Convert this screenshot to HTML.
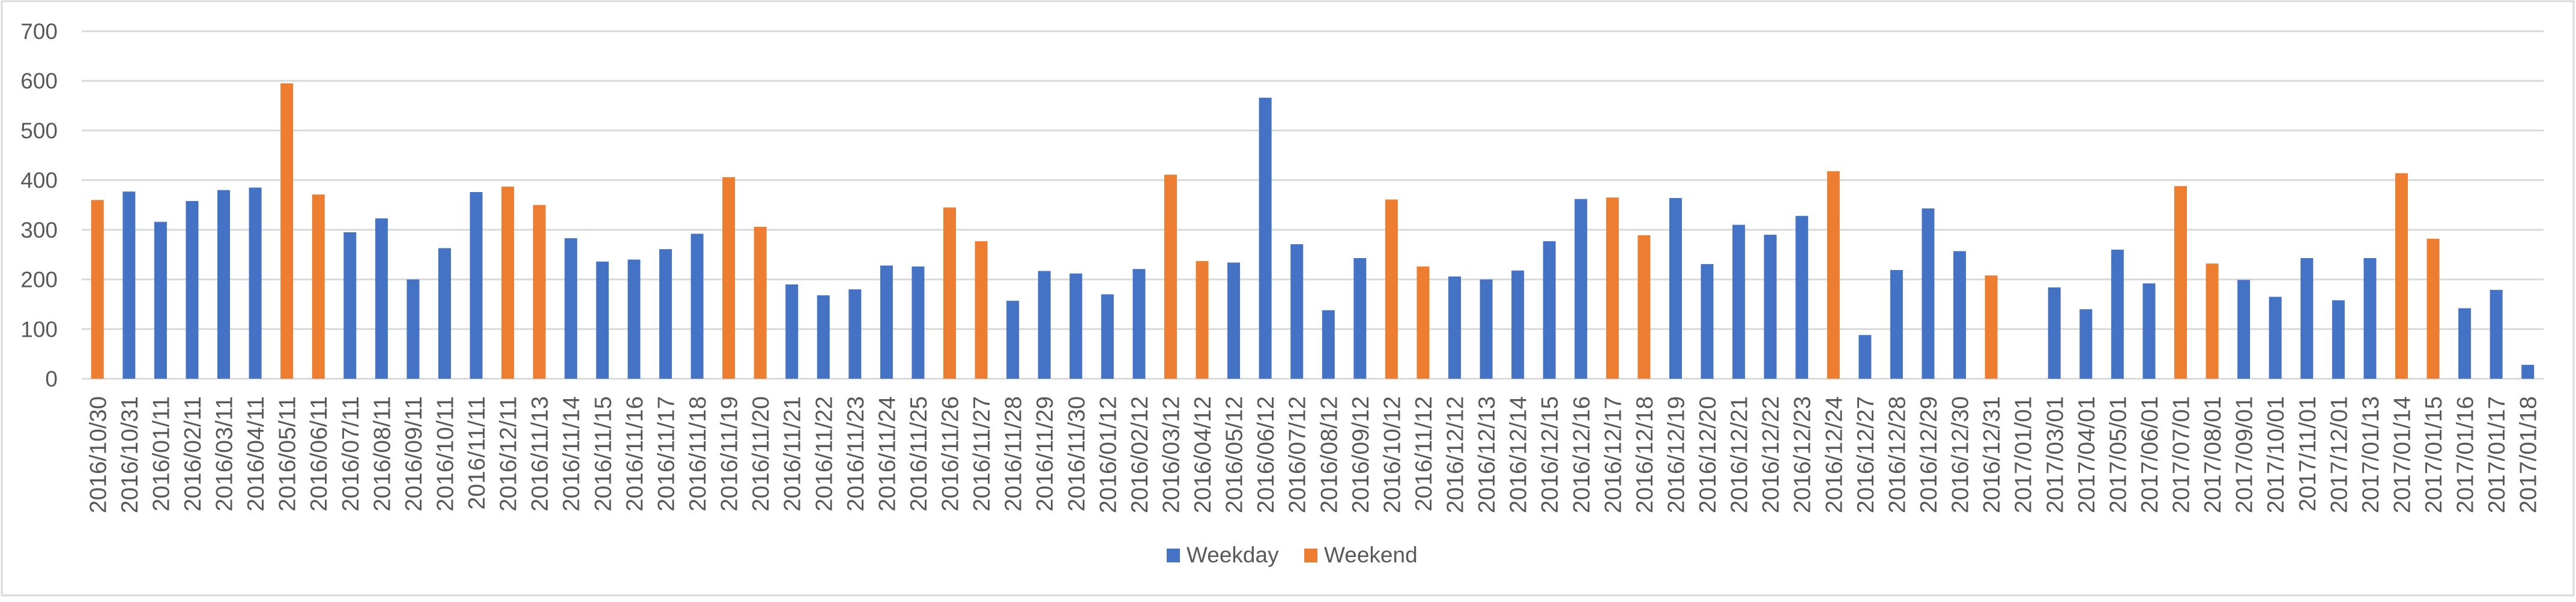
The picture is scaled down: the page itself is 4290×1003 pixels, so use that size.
<!DOCTYPE html>
<html><head><meta charset="utf-8"><style>
html,body{margin:0;padding:0;background:#fff}
svg{display:block}
text{font-family:"Liberation Sans",sans-serif;fill:#595959}
</style></head><body>
<svg id="chart" width="4290" height="1003" xmlns="http://www.w3.org/2000/svg">
<rect x="3" y="2" width="4283" height="990" fill="#fff" stroke="#d9d9d9" stroke-width="3"/>
<g id="grid"></g>
<g id="yticks"></g>
<g id="bars"></g>
<g id="xticks"></g>
<g>
<g>
<rect x="1943" y="914" width="22" height="23" fill="#4472C4"/>
<text x="1976" y="937" font-size="37">Weekday</text></g>
<g>
<rect x="2172" y="914" width="22" height="23" fill="#ED7D31"/>
<text x="2205" y="937" font-size="37">Weekend</text></g>
</g>
</svg>
<script>
const categories=["2016/10/30","2016/10/31","2016/01/11","2016/02/11","2016/03/11","2016/04/11","2016/05/11","2016/06/11","2016/07/11","2016/08/11","2016/09/11","2016/10/11","2016/11/11","2016/12/11","2016/11/13","2016/11/14","2016/11/15","2016/11/16","2016/11/17","2016/11/18","2016/11/19","2016/11/20","2016/11/21","2016/11/22","2016/11/23","2016/11/24","2016/11/25","2016/11/26","2016/11/27","2016/11/28","2016/11/29","2016/11/30","2016/01/12","2016/02/12","2016/03/12","2016/04/12","2016/05/12","2016/06/12","2016/07/12","2016/08/12","2016/09/12","2016/10/12","2016/11/12","2016/12/12","2016/12/13","2016/12/14","2016/12/15","2016/12/16","2016/12/17","2016/12/18","2016/12/19","2016/12/20","2016/12/21","2016/12/22","2016/12/23","2016/12/24","2016/12/27","2016/12/28","2016/12/29","2016/12/30","2016/12/31","2017/01/01","2017/03/01","2017/04/01","2017/05/01","2017/06/01","2017/07/01","2017/08/01","2017/09/01","2017/10/01","2017/11/01","2017/12/01","2017/01/13","2017/01/14","2017/01/15","2017/01/16","2017/01/17","2017/01/18"];
const values=[360,377,316,358,380,385,595,371,295,323,200,263,376,387,350,283,236,240,261,292,406,306,190,168,180,228,226,345,277,157,217,212,170,221,411,237,234,566,271,138,243,361,226,206,200,218,277,362,365,289,364,231,310,290,328,418,88,219,343,257,208,0,184,140,260,192,388,232,199,165,243,158,243,414,282,142,179,28];
const series=["E","D","D","D","D","D","E","E","D","D","D","D","D","E","E","D","D","D","D","D","E","E","D","D","D","D","D","E","E","D","D","D","D","D","E","E","D","D","D","D","D","E","E","D","D","D","D","D","E","E","D","D","D","D","D","E","D","D","D","D","E","E","D","D","D","D","E","E","D","D","D","D","D","E","E","D","D","D"];
const yTicks=[0,100,200,300,400,500,600,700];
const NS="http://www.w3.org/2000/svg";
const L=136,R=4236,Y0=631,Y700=52;
const band=(R-L)/categories.length;
const x=i=>L+band*(i+0.5);
const y=v=>Y0-(Y0-Y700)*v/700;
function mk(t,a,p){const e=document.createElementNS(NS,t);for(const k in a)e.setAttribute(k,a[k]);p.appendChild(e);return e;}
const grid=document.getElementById('grid'),yt=document.getElementById('yticks'),bars=document.getElementById('bars'),xt=document.getElementById('xticks');
yTicks.forEach(v=>{
 const l=mk('line',{x1:L,x2:R,y1:y(v),y2:y(v),stroke:'#d9d9d9','stroke-width':3},grid);
 
 
 const t=mk('text',{x:96,y:y(v)+13,'font-size':37,'text-anchor':'end'},yt);
 t.textContent=v;
 
 
});
const bw=21;
categories.forEach((c,i)=>{
 const v=values[i];
 if(v>0){
  const b=mk('rect',{x:x(i)-bw/2,y:y(v),width:bw,height:Y0-y(v),fill:series[i]==='E'?'#ED7D31':'#4472C4'},bars);
  
  
 }
 const t=mk('text',{transform:`translate(${x(i)+14},660) rotate(-90)`,'font-size':39,'text-anchor':'end'},xt);
 t.textContent=c;
 
 
});
</script>
</body></html>
